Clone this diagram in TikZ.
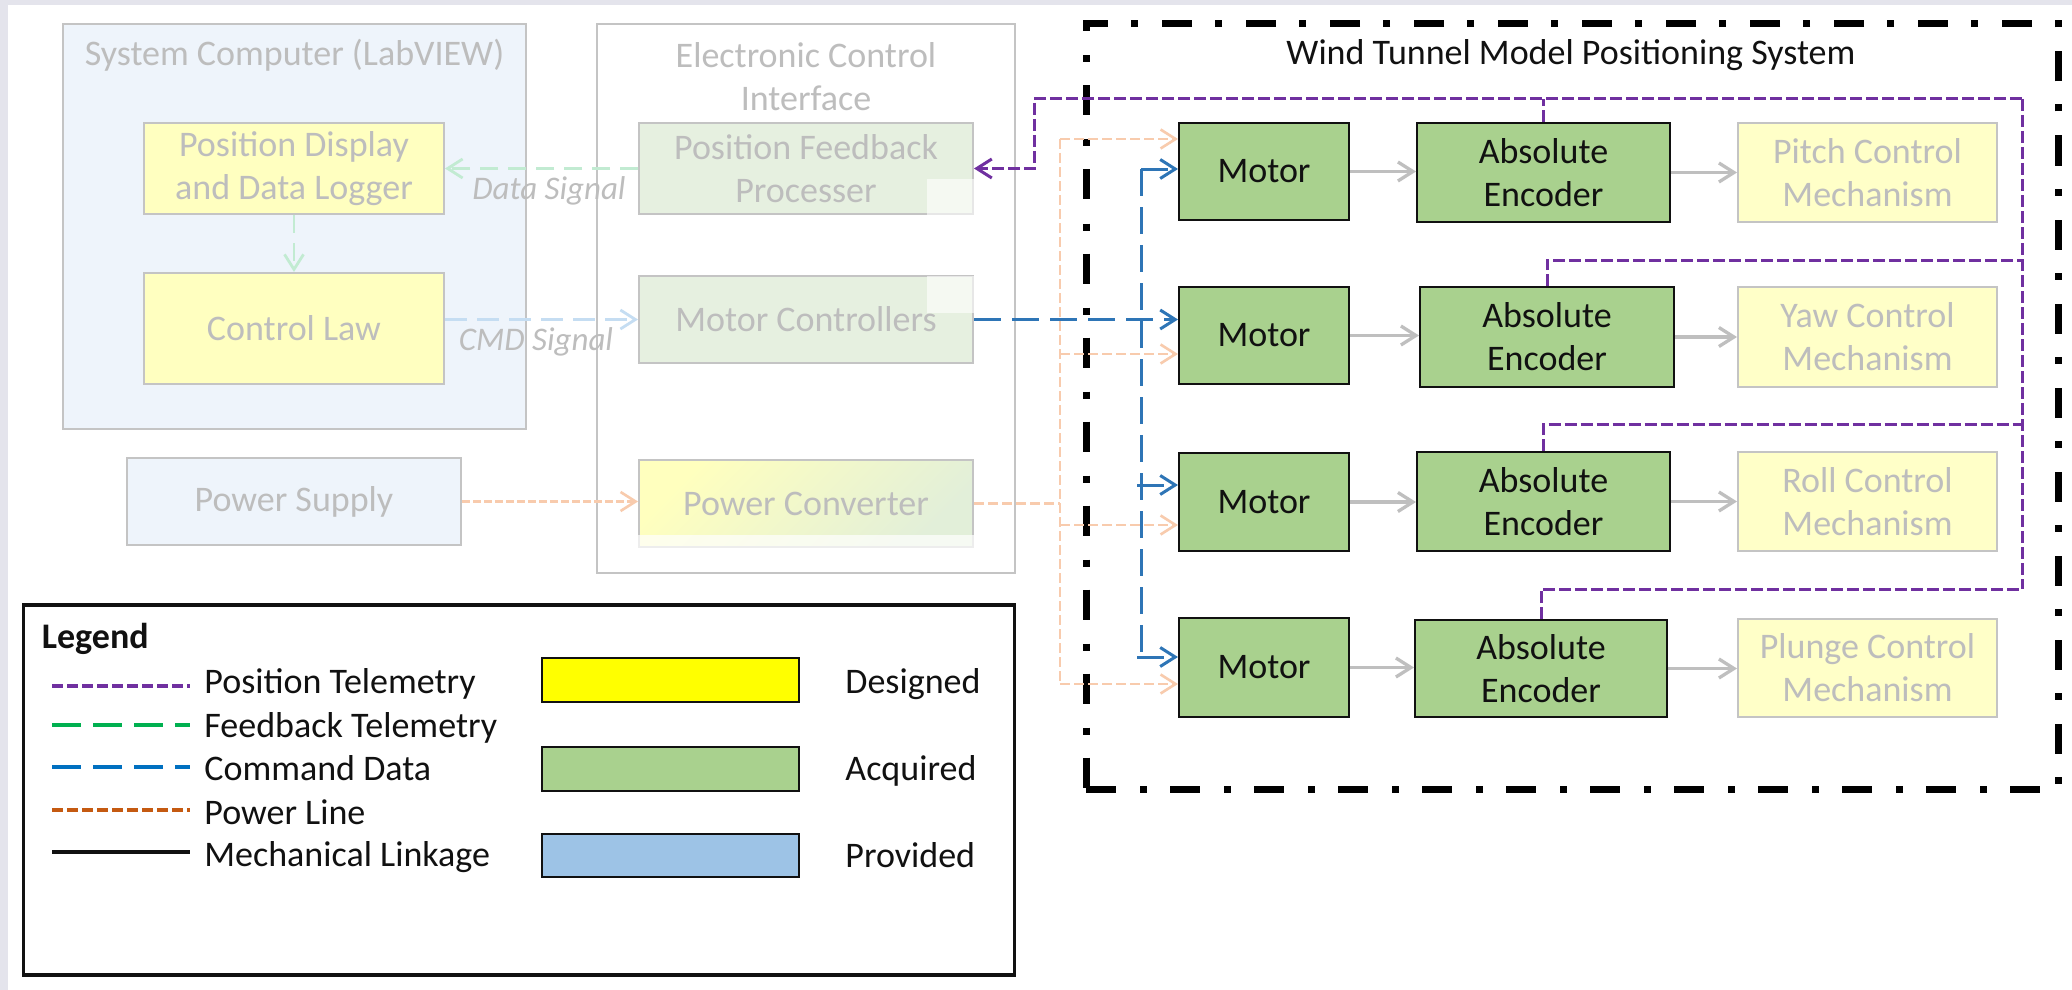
\documentclass[tikz,border=0pt]{standalone}
\usepackage{fontspec}
\setmainfont{Carlito}
\usetikzlibrary{arrows.meta,calc}

\definecolor{bgstrip}{HTML}{E4E4EC}
\definecolor{fadetext}{HTML}{BDBDBD}
\definecolor{sysfill}{HTML}{EEF4FB}
\definecolor{fadeline}{HTML}{C4C4C4}
\definecolor{fadeyel}{HTML}{FFFFC0}
\definecolor{fadegrn}{HTML}{E6F0E0}
\definecolor{convyel}{HTML}{FFFFBE}
\definecolor{convgrn}{HTML}{E2EFD9}
\definecolor{mechyel}{HTML}{FFFFC8}
\definecolor{acqgrn}{HTML}{A9D18E}
\definecolor{provblue}{HTML}{9DC3E6}
\definecolor{desyel}{HTML}{FFFF00}
\definecolor{telepurple}{HTML}{7030A0}
\definecolor{cmdblue}{HTML}{2E75B6}
\definecolor{pwrlight}{HTML}{F8CBAD}
\definecolor{datagrn}{HTML}{C2EBD2}
\definecolor{cmdlight}{HTML}{C5DDF2}
\definecolor{linkgray}{HTML}{BFBFBF}
\definecolor{leggreen}{HTML}{00B050}
\definecolor{legblue}{HTML}{0070C0}
\definecolor{legorange}{HTML}{C55A11}
\definecolor{inkblack}{HTML}{111111}

\newcommand\txtsz{\fontsize{18pt}{21.5pt}\selectfont}
\newcommand\lblsz{\fontsize{16.5pt}{20pt}\selectfont}

\tikzset{
  px/.style 2 args={minimum width={#1*0.5pt}, minimum height={#2*0.5pt}},
  blk/.style={draw, rectangle, inner sep=0pt, align=center, font=\txtsz},
  faded/.style={blk, draw=fadeline, line width=1pt, text=fadetext},
  acq/.style={blk, draw=inkblack, fill=acqgrn, line width=1pt, text=inkblack},
  mechbox/.style={faded, fill=mechyel},
  tip/.style={-{Straight Barb[length=7.5pt,width=9.5pt]}},
  tele/.style={draw=telepurple, line width=1.5pt, dash pattern=on 6pt off 2pt},
  cmd/.style={draw=cmdblue, line width=1.5pt, dash pattern=on 13.5pt off 5.5pt},
  pwr/.style={draw=pwrlight, line width=1.3pt, dash pattern=on 5pt off 2pt},
  linkage/.style={draw=linkgray, line width=1.65pt, tip},
  fadetitle/.style={text=fadetext, font=\txtsz, align=center, inner sep=0pt},
  siglabel/.style={text=fadetext, font=\lblsz\itshape, inner sep=0pt},
  legtext/.style={anchor=base west, inner sep=0pt, font=\txtsz, text=inkblack},
  swatch/.style={draw=inkblack, line width=1pt, inner sep=0pt},
}

\begin{document}
\begin{tikzpicture}[x=0.5pt, y=-0.5pt]
\useasboundingbox (0,0) rectangle (2072,990);
\fill[white] (0,0) rectangle (2072,990);
\fill[bgstrip] (0,0) rectangle (2072,5);
\fill[bgstrip] (0,0) rectangle (8,990);

% ---- system computer ----
\node[faded, fill=sysfill, px={463}{405}] (syscomp) at (294.5,226.5) {};
\node[fadetitle] (syscompT) at (294.5,55) {System Computer (LabVIEW)};
\node[faded, fill=fadeyel, px={300}{91}] (pddl) at (294,168.5) {Position Display\\and Data Logger};
\node[faded, fill=fadeyel, px={300}{111}] (claw) at (294,328.5) {Control Law};
\node[faded, fill=sysfill, px={334}{87}] (psup) at (294,501.5) {Power Supply};

% ---- electronic control interface ----
\node[faded, fill=white, px={418}{549}] (eci) at (806,298.5) {};
\node[fadetitle] (eciT) at (806,76.5) {Electronic Control\\Interface};
\node[faded, fill=fadegrn, px={334}{91}] (pfp) at (806,168.5) {Position Feedback\\Processer};
\node[faded, fill=fadegrn, px={334}{87}] (mctrl) at (806,319.5) {Motor Controllers};
\node[faded, top color=convyel, bottom color=convgrn, shading angle=45, px={334}{87}] (pconv) at (806,503.5) {Power Converter};

% ---- wind tunnel model positioning system ----
\node[draw=black, line width=3.5pt, dash pattern=on 15pt off 12pt on 3.5pt off 11.5pt,
      inner sep=0pt, px={972}{766}] (wtmps) at (1572,406.5) {};
\node[font=\txtsz, text=inkblack, inner sep=0pt] (wtmpsT) at (1571,55) {Wind Tunnel Model Positioning System};

\node[acq, px={170}{97}] (m1) at (1264,171.5) {Motor};
\node[acq, px={170}{97}] (m2) at (1264,335.5) {Motor};
\node[acq, px={170}{98}] (m3) at (1264,502) {Motor};
\node[acq, px={170}{99}] (m4) at (1264,667.5) {Motor};

\node[acq, px={253}{99}] (e1) at (1543.5,172.5) {Absolute\\Encoder};
\node[acq, px={254}{100}] (e2) at (1547,337) {Absolute\\Encoder};
\node[acq, px={253}{99}] (e3) at (1543.5,501.5) {Absolute\\Encoder};
\node[acq, px={252}{97}] (e4) at (1541,668.5) {Absolute\\Encoder};

\node[mechbox, px={259}{99}] (k1) at (1867.5,172.5) {Pitch Control\\Mechanism};
\node[mechbox, px={259}{100}] (k2) at (1867.5,337) {Yaw Control\\Mechanism};
\node[mechbox, px={259}{99}] (k3) at (1867.5,501.5) {Roll Control\\Mechanism};
\node[mechbox, px={259}{98}] (k4) at (1867.5,668) {Plunge Control\\Mechanism};

% ---- signals inside the computer and interface ----
\draw[draw=datagrn, line width=1.4pt, dash pattern=on 9pt off 5pt, tip] (pfp.west) -- (pddl.east);
\draw[draw=datagrn, line width=1.4pt, dash pattern=on 9pt off 5pt, tip] (pddl.south) -- (claw.north);
\draw[draw=cmdlight, line width=1.4pt, dash pattern=on 11pt off 5pt, tip] (claw.east |- mctrl.west) -- (mctrl.west);
\draw[draw=pwrlight, line width=1.3pt, dash pattern=on 4pt off 1.5pt, tip] (psup.east) -- (psup.east -| pconv.west);
\node[siglabel] (dsig) at (549,190.5) {Data Signal};
\node[siglabel] (csig) at (536,342) {CMD Signal};

% ---- mechanical linkage ----
\foreach \i in {1,2,3,4} {
  \draw[linkage] (m\i.east) -- (m\i.east -| e\i.west);
  \draw[linkage] (e\i.east) -- (e\i.east -| k\i.west);
}

% ---- position telemetry ----
\coordinate (tl) at (1034,99);
\coordinate (tr) at (2022,99);
\coordinate (r2) at (2022,260);
\coordinate (r3) at (2022,424);
\coordinate (r4) at (2022,589);
\draw[tele] (tr) -- (r4);
\draw[tele, tip] (tr) -- (tl) |- (pfp.east);
\draw[tele] (e1.north) -- (e1.north |- tl);
\draw[tele] (e2.north) |- (r2);
\draw[tele] (e3.north) |- (r3);
\draw[tele] (e4.north) |- (r4);

% ---- power distribution ----
\coordinate (o1) at (1060,139);
\coordinate (o2) at (1060,354);
\coordinate (o3) at (1060,525);
\coordinate (o4) at (1060,684);
\draw[pwr] (pconv.east) -- (pconv.east -| o1);
\draw[pwr] (o1) -- (o4);
\foreach \i in {1,2,3,4} {
  \draw[pwr, tip] (o\i) -- (m\i.west |- o\i);
}

% ---- command data ----
\coordinate (b1) at (1141,169);
\coordinate (b3) at (1141,485);
\coordinate (b4) at (1141,657);
\draw[cmd] (b1) -- (b4);
\draw[cmd, tip] (mctrl.east) -- (m2.west |- mctrl.east);
\draw[cmd, tip] (b1) -- (m1.west |- b1);
\draw[cmd, tip] ([xshift=-2pt]b3) -- (m3.west |- b3);
\draw[cmd, tip] ([xshift=-2pt]b4) -- (m4.west |- b4);

% ---- light overlays on the interface boxes ----
\fill[white, opacity=0.6] (927,179) rectangle (974,215);
\fill[white, opacity=0.6] (927,276) rectangle (974,313);
\fill[white, opacity=0.7] (638,535) rectangle (974,548);

% ---- legend ----
\node[draw=inkblack, line width=1.75pt, inner sep=0pt, px={991}{370}] (legend) at (519,790) {};
\node[legtext, font=\txtsz\bfseries] (legT) at (41.5,648) {Legend};

\coordinate (la1) at (52,686);  \coordinate (lb1) at (190,686);
\coordinate (la2) at (52,725);  \coordinate (lb2) at (190,725);
\coordinate (la3) at (52,767);  \coordinate (lb3) at (190,767);
\coordinate (la4) at (52,810);  \coordinate (lb4) at (190,810);
\coordinate (la5) at (52,852);  \coordinate (lb5) at (190,852);
\draw[telepurple, line width=1.6pt, dash pattern=on 5.5pt off 2pt] (la1) -- (lb1);
\draw[leggreen, line width=1.6pt, dash pattern=on 14.5pt off 6pt] (la2) -- (lb2);
\draw[legblue, line width=1.6pt, dash pattern=on 14.5pt off 6pt] (la3) -- (lb3);
\draw[legorange, line width=1.6pt, dash pattern=on 5.5pt off 2pt] (la4) -- (lb4);
\draw[inkblack, line width=1.65pt] (la5) -- (lb5);

\node[legtext] (lt1) at (204,693) {Position Telemetry};
\node[legtext] (lt2) at (204,737) {Feedback Telemetry};
\node[legtext] (lt3) at (204,780.5) {Command Data};
\node[legtext] (lt4) at (204,824) {Power Line};
\node[legtext] (lt5) at (204,866.5) {Mechanical Linkage};

\node[swatch, fill=desyel, px={257}{44}] (swY) at (670.5,680) {};
\node[swatch, fill=acqgrn, px={257}{44}] (swG) at (670.5,769) {};
\node[swatch, fill=provblue, px={257}{43}] (swB) at (670.5,855.5) {};
\node[legtext] (ls1) at (845,693) {Designed};
\node[legtext] (ls2) at (845,780.5) {Acquired};
\node[legtext] (ls3) at (845,867.5) {Provided};
\end{tikzpicture}
\end{document}
